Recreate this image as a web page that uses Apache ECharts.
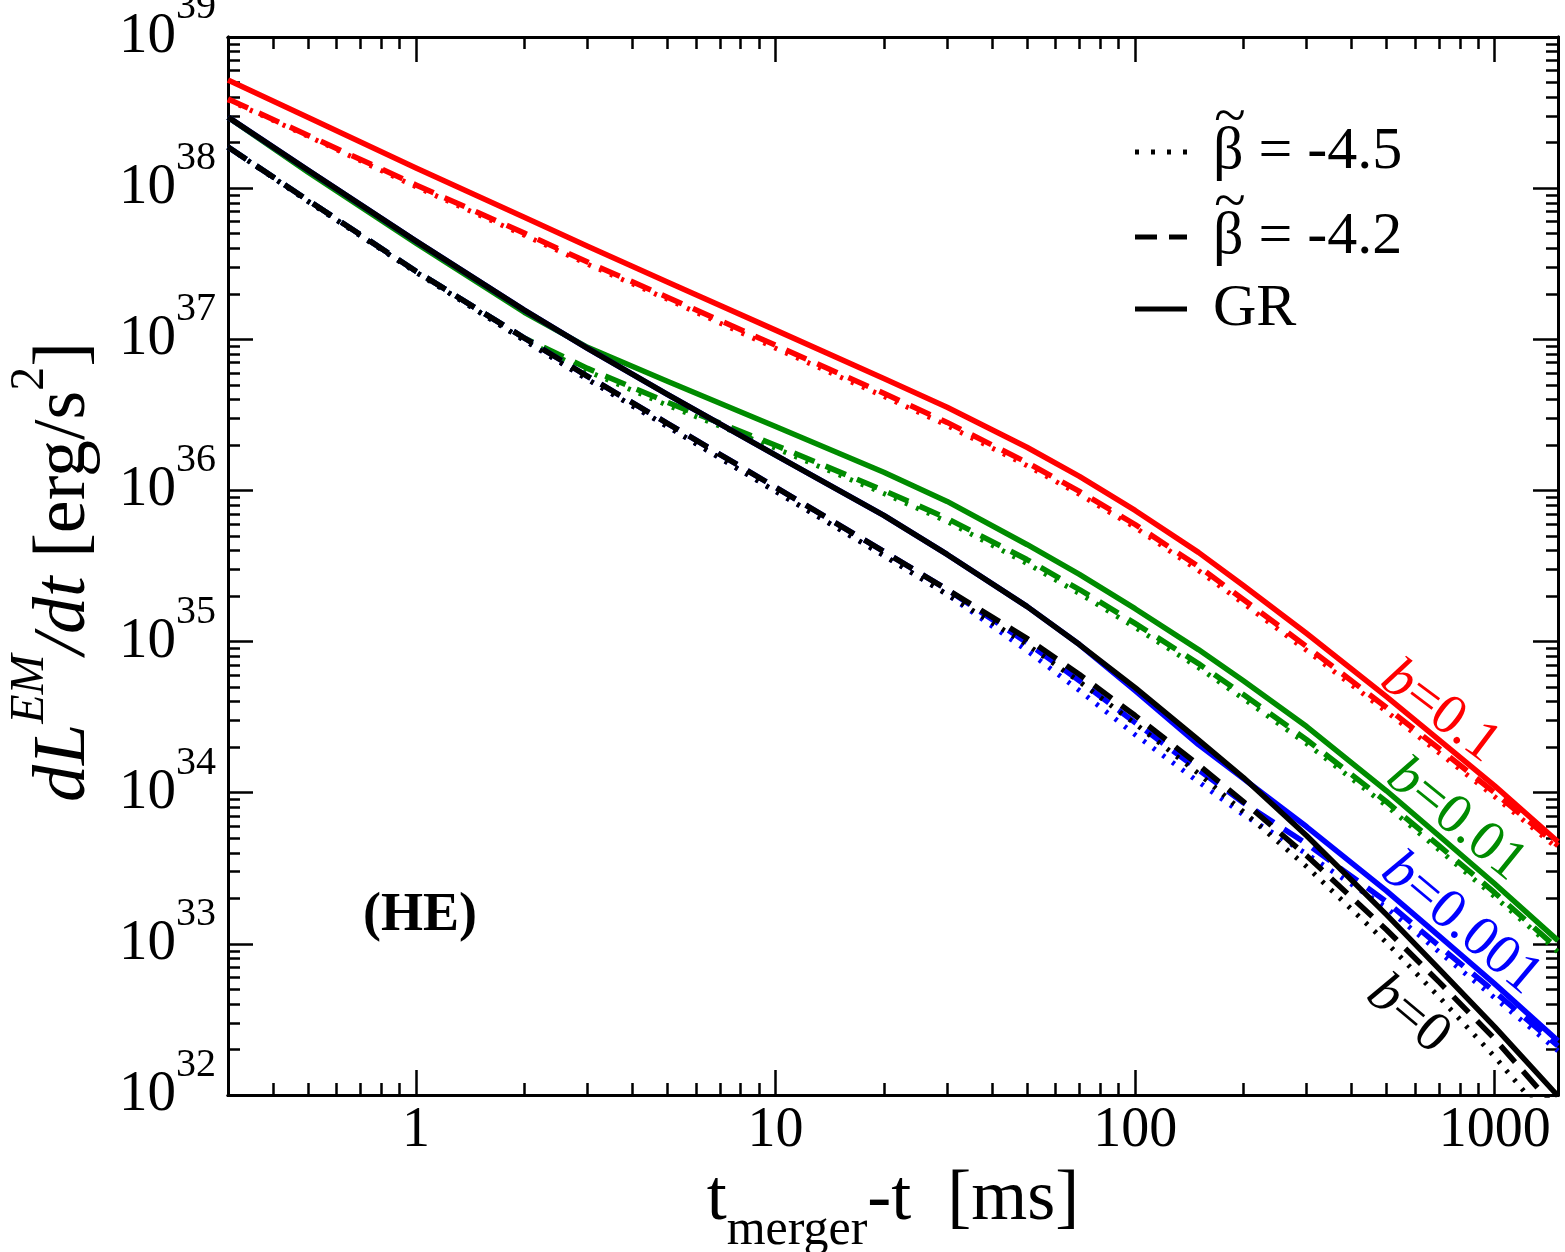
<!DOCTYPE html>
<html><head><meta charset="utf-8">
<script src="https://cdn.jsdelivr.net/npm/echarts@6/dist/echarts.min.js"></script>
<style>html,body{margin:0;padding:0;background:#fff}#c{width:1565px;height:1252px}</style>
</head><body><div id="c"></div><script>
// time before merger [ms]
const time_ms = [0.3, 0.5, 1, 2, 3, 5, 10, 20, 30, 50, 70, 100, 150, 200, 300, 500, 700, 1000, 1500];

// b = 0.1 (red)
const red_GR   = [5.19e38, 2.95e38, 1.36e38, 6.42e37, 4.13e37, 2.39e37, 1.15e37, 5.51e36, 3.55e36, 1.93e36, 1.24e36, 7.37e35, 3.89e35, 2.35e35, 1.13e35, 4.32e34, 2.24e34, 1.11e34, 4.74e33];
const red_b42  = [3.89e38, 2.24e38, 1.05e38, 5.04e37, 3.24e37, 1.90e37, 9.13e36, 4.39e36, 2.82e36, 1.53e36, 9.85e35, 5.95e35, 3.14e35, 1.90e35, 9.27e34, 3.66e34, 1.96e34, 1.00e34, 4.46e33];
const red_b45  = [3.83e38, 2.21e38, 1.02e38, 4.88e37, 3.14e37, 1.84e37, 8.72e36, 4.19e36, 2.69e36, 1.46e36, 9.41e35, 5.69e35, 2.95e35, 1.79e35, 8.72e34, 3.44e34, 1.84e34, 9.41e33, 4.26e33];
// b = 0.01 (green)
const green_GR  = [2.95e38, 1.28e38, 4.32e37, 1.51e37, 8.85e36, 5.27e36, 2.65e36, 1.32e36, 8.46e35, 4.39e35, 2.78e35, 1.65e35, 8.85e34, 5.51e34, 2.74e34, 1.03e34, 5.19e33, 2.50e33, 1.05e33];
const green_b42 = [1.87e38, 8.33e37, 2.82e37, 1.02e37, 6.42e36, 3.83e36, 1.99e36, 1.00e36, 6.53e35, 3.49e35, 2.21e35, 1.32e35, 7.15e34, 4.46e34, 2.24e34, 8.72e33, 4.46e33, 2.18e33, 9.27e32];
const green_b45 = [1.87e38, 8.20e37, 2.78e37, 9.85e36, 6.14e36, 3.66e36, 1.90e36, 9.55e35, 6.23e35, 3.29e35, 2.08e35, 1.24e35, 6.73e34, 4.19e34, 2.11e34, 8.20e33, 4.19e33, 2.05e33, 8.85e32];
// b = 0.001 (blue)
const blue_GR  = [2.95e38, 1.32e38, 4.46e37, 1.56e37, 8.72e36, 4.32e36, 1.71e36, 6.83e35, 3.77e35, 1.71e35, 9.55e34, 4.74e34, 2.08e34, 1.24e34, 5.95e33, 2.24e33, 1.13e33, 5.43e32, 2.28e32];
const blue_b42 = [1.87e38, 8.33e37, 2.82e37, 1.02e37, 5.69e36, 2.78e36, 1.05e36, 3.94e35, 2.21e35, 9.85e34, 5.51e34, 2.91e34, 1.42e34, 8.59e33, 4.59e33, 1.90e33, 9.70e32, 4.81e32, 2.11e32];
const blue_b45 = [1.87e38, 8.20e37, 2.78e37, 9.85e36, 5.43e36, 2.65e36, 9.85e35, 3.71e35, 2.05e35, 8.72e34, 4.74e34, 2.42e34, 1.18e34, 7.15e33, 3.94e33, 1.73e33, 8.85e32, 4.39e32, 1.96e32];
// b = 0 (black)
const black_GR  = [2.95e38, 1.32e38, 4.46e37, 1.56e37, 8.72e36, 4.32e36, 1.71e36, 6.83e35, 3.77e35, 1.71e35, 9.55e34, 4.96e34, 2.24e34, 1.26e34, 5.19e33, 1.56e33, 6.83e32, 2.82e32, 9.85e31];
const black_b42 = [1.87e38, 8.33e37, 2.82e37, 1.02e37, 5.69e36, 2.78e36, 1.05e36, 3.94e35, 2.21e35, 1.05e35, 6.05e34, 3.24e34, 1.53e34, 8.72e33, 3.83e33, 1.24e33, 5.60e32, 2.35e32, 7.83e31];
const black_b45 = [1.87e38, 8.20e37, 2.78e37, 9.85e36, 5.43e36, 2.65e36, 9.85e35, 3.71e35, 2.05e35, 9.55e34, 5.43e34, 2.86e34, 1.34e34, 7.48e33, 3.24e33, 1.02e33, 4.46e32, 1.79e32, 5.78e31];

// axis ticks / labels
const xMajorTicks = [1, 10, 100, 1000];
const xMinorTicks = [0.4,0.5,0.6,0.7,0.8,0.9, 2,3,4,5,6,7,8,9, 20,30,40,50,60,70,80,90, 200,300,400,500,600,700,800,900];
const yMajorTicks = [1e32, 1e33, 1e34, 1e35, 1e36, 1e37, 1e38, 1e39];
const yExponents = [32, 33, 34, 35, 36, 37, 38, 39];
const yMinorTicks = [];
for (let k = 32; k < 39; k++) for (let m = 2; m <= 9; m++) yMinorTicks.push(m * Math.pow(10, k));

const legendLabels = ['β', 'β', 'GR'];
const legendValues = [' = -4.5', ' = -4.2', ''];
const FONT = 'Liberation Serif';
const DOT = [3, 9], DASH = [22, 12];

const chart = echarts.init(document.getElementById('c'), null, {renderer: 'canvas'});

function xAx(pos, ticks, len, labels) {
  return {
    type: 'log', logBase: 10, min: 0.3, max: 1500, position: pos, gridIndex: 0,
    axisLine: {show: true, lineStyle: {color: '#000', width: 3}},
    axisTick: {show: true, inside: true, length: len, customValues: ticks, lineStyle: {color: '#000', width: 2.5}},
    axisLabel: labels ? {show: true, customValues: ticks, margin: 8, color: '#000', fontSize: 56, fontFamily: FONT,
      showMinLabel: true, showMaxLabel: true, formatter: v => String(Math.round(v))} : {show: false},
    splitLine: {show: false}, minorTick: {show: false}, minorSplitLine: {show: false}
  };
}
function yAx(pos, ticks, len, labels) {
  return {
    type: 'log', logBase: 10, min: 0.99999e32, max: 1.00001e39, position: pos, gridIndex: 0,
    axisLine: {show: true, lineStyle: {color: '#000', width: 3}},
    axisTick: {show: true, inside: true, length: len, customValues: ticks, lineStyle: {color: '#000', width: 2.5}},
    axisLabel: labels ? {show: true, customValues: ticks, margin: 12, color: '#000', showMinLabel: true, showMaxLabel: true,
      formatter: v => '{b|10}{e|' + yExponents[yMajorTicks.findIndex(t => Math.abs(Math.log10(t) - Math.log10(v)) < 0.01)] + '}',
      rich: {
        b: {fontSize: 57, fontFamily: FONT, color: '#000', lineHeight: 57, verticalAlign: 'bottom'},
        e: {fontSize: 40, fontFamily: FONT, color: '#000', lineHeight: 40, padding: [0, 0, 38, 0], verticalAlign: 'bottom'}
      }} : {show: false},
    splitLine: {show: false}, minorTick: {show: false}, minorSplitLine: {show: false}
  };
}

const xAxes = [xAx('bottom', xMajorTicks, 25, true), xAx('bottom', xMinorTicks, 12, false),
               xAx('top', xMajorTicks, 25, false), xAx('top', xMinorTicks, 12, false)];
xAxes[0].name = '{m|t}{s|merger}{m|-t  [ms]}';
xAxes[0].nameLocation = 'middle';
xAxes[0].nameGap = 14;
xAxes[0].nameTextStyle = {rich: {
  m: {fontSize: 72, fontFamily: FONT, color: '#000', lineHeight: 72, verticalAlign: 'top'},
  s: {fontSize: 50, fontFamily: FONT, color: '#000', lineHeight: 50, padding: [42, 0, 0, 0], verticalAlign: 'top'}
}};
const yAxes = [yAx('left', yMajorTicks, 25, true), yAx('left', yMinorTicks, 12, false),
               yAx('right', yMajorTicks, 25, false), yAx('right', yMinorTicks, 12, false)];
yAxes[0].name = '{i|dL}{p|EM}{i|/dt}{r| [erg/s}{p2|2}{r|]}';
yAxes[0].nameLocation = 'middle';
yAxes[0].nameGap = 126;
yAxes[0].nameRotate = 90;
yAxes[0].nameTextStyle = {padding: [0, 12, 0, 0], rich: {
  i: {fontSize: 74, fontFamily: FONT, fontStyle: 'italic', color: '#000', lineHeight: 74, verticalAlign: 'bottom'},
  r: {fontSize: 74, fontFamily: FONT, color: '#000', lineHeight: 74, verticalAlign: 'bottom'},
  p: {fontSize: 48, fontFamily: FONT, fontStyle: 'italic', color: '#000', lineHeight: 48, padding: [0, 0, 48, 0], verticalAlign: 'bottom'},
  p2: {fontSize: 48, fontFamily: FONT, color: '#000', lineHeight: 48, padding: [0, 0, 48, 0], verticalAlign: 'bottom'}
}};

function line(name, vals, color, dash, width) {
  return {
    type: 'line', name: name, xAxisIndex: 0, yAxisIndex: 0,
    data: time_ms.map((t, i) => [t, vals[i]]),
    symbol: 'none', showSymbol: false, smooth: false, clip: true, silent: true,
    lineStyle: {color: color, width: width, type: dash, cap: 'butt', join: 'round'},
    emphasis: {disabled: true}
  };
}
const RED = '#ff0000', GREEN = '#008b00', BLUE = '#0000ff', BLACK = '#000000';
const series = [
  line('red45', red_b45, RED, DOT, 5), line('red42', red_b42, RED, DASH, 5.5), line('redGR', red_GR, RED, 'solid', 5.5),
  line('green45', green_b45, GREEN, DOT, 5), line('green42', green_b42, GREEN, DASH, 5.5), line('greenGR', green_GR, GREEN, 'solid', 5.5),
  line('blue45', blue_b45, BLUE, DOT, 5), line('blue42', blue_b42, BLUE, DASH, 5.5), line('blueGR', blue_GR, BLUE, 'solid', 5.5),
  line('black45', black_b45, BLACK, DOT, 5), line('black42', black_b42, BLACK, DASH, 5.5), line('blackGR', black_GR, BLACK, 'solid', 5.5)
];

function annot(text, color, x, y, deg) {
  return {
    type: 'text', x: x, y: y, rotation: -deg * Math.PI / 180, silent: true, z: 100,
    style: {
      text: '{i|b}{r|' + text + '}', align: 'center', verticalAlign: 'middle', fill: color,
      rich: {
        i: {fontSize: 57, fontFamily: FONT, fontStyle: 'italic', fill: color},
        r: {fontSize: 57, fontFamily: FONT, fill: color}
      }
    }
  };
}

// legend drawn as graphic (sample line + text)
const legendRowsY = [152, 237, 309];
const legendDash = [[4, 12], [22, 12], null];
const legendGraphics = [];
legendRowsY.forEach((y, i) => {
  legendGraphics.push({type: 'line', silent: true, z: 100,
    shape: {x1: 1135, y1: y, x2: 1187, y2: y},
    style: {stroke: '#000', lineWidth: 5, lineDash: legendDash[i], lineCap: 'butt'}});
  legendGraphics.push({type: 'text', silent: true, z: 100, x: 1213, y: y,
    style: {text: legendLabels[i] + legendValues[i], fill: '#000', font: '60px "Liberation Serif"',
            align: 'left', verticalAlign: 'middle'}});
  if (legendValues[i]) {
    legendGraphics.push({type: 'text', silent: true, z: 100, x: 1230, y: y - 33,
      style: {text: '~', fill: '#000', font: '58px "Liberation Serif"', align: 'center', verticalAlign: 'middle'}});
  }
});

chart.setOption({
  animation: false,
  backgroundColor: '#fff',
  grid: {left: 228, right: 7, top: 37, bottom: 157, containLabel: false, outerBoundsMode: 'none'},
  xAxis: xAxes,
  yAxis: yAxes,
  series: series,
  graphic: [
    annot('=0.1', RED, 1440, 712, 37),
    annot('=0.01', GREEN, 1456, 820, 39),
    annot('=0.001', BLUE, 1461, 924, 40),
    annot('=0', BLACK, 1408, 1015, 40),
    {type: 'text', x: 420, y: 916, silent: true, z: 100,
     style: {text: '(HE)', align: 'center', verticalAlign: 'middle', fill: '#000',
             font: 'bold 54px "Liberation Serif"'}}
  ].concat(legendGraphics)
});
</script></body></html>
